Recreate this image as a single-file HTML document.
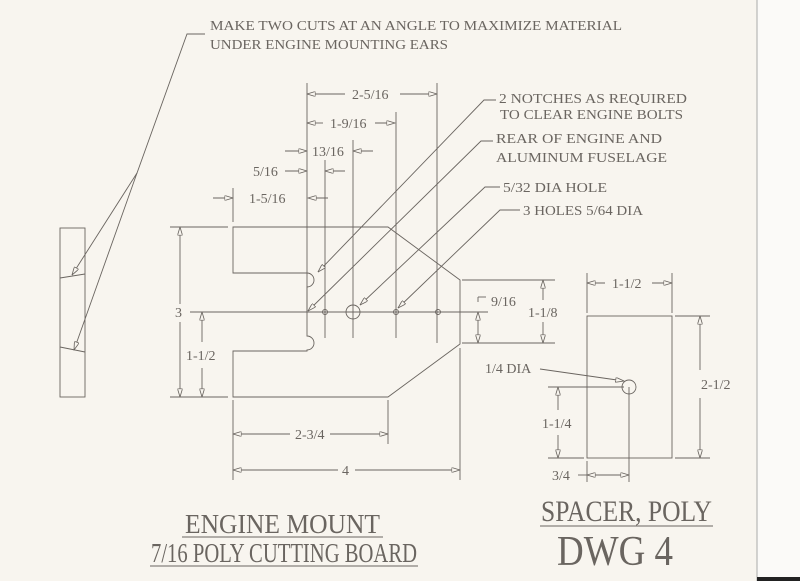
<!DOCTYPE html>
<html><head><meta charset="utf-8"><style>
html,body{margin:0;padding:0;background:#f8f5ef;}
svg{display:block}
text{font-family:"Liberation Serif",serif;fill:#6a6560;}
</style></head><body>
<svg width="800" height="581" viewBox="0 0 800 581" xmlns="http://www.w3.org/2000/svg">
<defs>
<marker id="a" viewBox="0 0 10 6" refX="10" refY="3" markerWidth="9" markerHeight="5" orient="auto-start-reverse" markerUnits="userSpaceOnUse">
<path d="M0,0 L10,3 L0,6 Z" fill="#f8f5ef" stroke="#6a6560" stroke-width="1"/>
</marker>
</defs>
<rect x="0" y="0" width="800" height="581" fill="#f8f5ef"/>
<rect x="757" y="0" width="43" height="581" fill="#fbfaf8"/>
<line x1="757" y1="0" x2="757" y2="581" stroke="#aaa" stroke-width="1"/>
<rect x="757" y="577" width="43" height="4" fill="#222"/>

<g stroke="#6a6560" stroke-width="0.9" fill="none">
<path d="M233,227 L388,227 L460,280 L460,344 L388,397 L233,397 L233,351 L307,351 L307,350 A7,7 0 0 0 307,336 L307,287 A7,7 0 0 0 307,273 L233,273 Z"/>
<line x1="190" y1="312" x2="488" y2="312"/>
<circle cx="325" cy="312" r="2.5"/>
<circle cx="353" cy="312" r="7"/>
<circle cx="396" cy="312" r="2.5"/>
<circle cx="438" cy="312" r="2.5"/>
<line x1="307" y1="83" x2="307" y2="312"/>
<line x1="325" y1="160" x2="325" y2="338"/>
<line x1="353" y1="140" x2="353" y2="338"/>
<line x1="396" y1="112" x2="396" y2="338"/>
<line x1="437" y1="83" x2="437" y2="343"/>
<line x1="233" y1="188" x2="233" y2="222"/>
<line x1="307" y1="94" x2="345" y2="94" marker-start="url(#a)"/>
<line x1="400" y1="94" x2="437" y2="94" marker-end="url(#a)"/>
<line x1="307" y1="123" x2="323" y2="123" marker-start="url(#a)"/>
<line x1="375" y1="123" x2="395" y2="123" marker-end="url(#a)"/>
<line x1="285" y1="151" x2="307" y2="151" marker-end="url(#a)"/>
<line x1="373" y1="151" x2="353" y2="151" marker-end="url(#a)"/>
<line x1="285" y1="171" x2="307" y2="171" marker-end="url(#a)"/>
<line x1="345" y1="171" x2="325" y2="171" marker-end="url(#a)"/>
<line x1="213" y1="198" x2="233" y2="198" marker-end="url(#a)"/>
<line x1="328" y1="198" x2="308" y2="198" marker-end="url(#a)"/>
<line x1="170" y1="227" x2="228" y2="227"/>
<line x1="170" y1="397" x2="228" y2="397"/>
<line x1="180" y1="227" x2="180" y2="304" marker-start="url(#a)"/>
<line x1="180" y1="322" x2="180" y2="397" marker-end="url(#a)"/>
<line x1="202" y1="312" x2="202" y2="342" marker-start="url(#a)"/>
<line x1="202" y1="368" x2="202" y2="397" marker-end="url(#a)"/>
<line x1="233" y1="400" x2="233" y2="480"/>
<line x1="388" y1="400" x2="388" y2="444"/>
<line x1="460" y1="348" x2="460" y2="480"/>
<line x1="233" y1="434" x2="290" y2="434" marker-start="url(#a)"/>
<line x1="330" y1="434" x2="388" y2="434" marker-end="url(#a)"/>
<line x1="233" y1="470" x2="338" y2="470" marker-start="url(#a)"/>
<line x1="355" y1="470" x2="460" y2="470" marker-end="url(#a)"/>
<line x1="462" y1="280" x2="555" y2="280"/>
<line x1="462" y1="343" x2="555" y2="343"/>
<line x1="543" y1="280" x2="543" y2="300" marker-start="url(#a)"/>
<line x1="543" y1="322" x2="543" y2="343" marker-end="url(#a)"/>
<line x1="478" y1="312" x2="478" y2="343" marker-start="url(#a)" marker-end="url(#a)"/>
<line x1="478" y1="302" x2="478" y2="297"/>
<line x1="478" y1="297" x2="486" y2="297"/>
<polyline points="496,100 484,100 318,272" marker-end="url(#a)"/>
<polyline points="493,141 481,141 308,311" marker-end="url(#a)"/>
<polyline points="500,187 485,187 360,305" marker-end="url(#a)"/>
<polyline points="520,210 500,210 398,308" marker-end="url(#a)"/>
<polyline points="205,34 187,34 137,173 72,275" marker-end="url(#a)"/>
<polyline points="137,173 74,350" marker-end="url(#a)"/>
<rect x="60" y="228" width="25" height="169"/>
<line x1="60" y1="278" x2="85" y2="274"/>
<line x1="60" y1="347" x2="85" y2="352"/>
<rect x="587" y="316" width="85" height="142"/>
<circle cx="629" cy="387" r="7"/>
<line x1="587" y1="273" x2="587" y2="313"/>
<line x1="672" y1="273" x2="672" y2="313"/>
<line x1="587" y1="283" x2="605" y2="283" marker-start="url(#a)"/>
<line x1="652" y1="283" x2="672" y2="283" marker-end="url(#a)"/>
<line x1="675" y1="316" x2="710" y2="316"/>
<line x1="675" y1="458" x2="710" y2="458"/>
<line x1="700" y1="316" x2="700" y2="370" marker-start="url(#a)"/>
<line x1="700" y1="398" x2="700" y2="458" marker-end="url(#a)"/>
<line x1="548" y1="387" x2="624" y2="387"/>
<line x1="548" y1="458" x2="584" y2="458"/>
<line x1="558" y1="387" x2="558" y2="410" marker-start="url(#a)"/>
<line x1="558" y1="435" x2="558" y2="458" marker-end="url(#a)"/>
<line x1="629" y1="387" x2="629" y2="482"/>
<line x1="587" y1="461" x2="587" y2="482"/>
<line x1="587" y1="475" x2="629" y2="475" marker-start="url(#a)" marker-end="url(#a)"/>
<line x1="578" y1="475" x2="587" y2="475"/>
<line x1="540" y1="369" x2="624" y2="381" marker-end="url(#a)"/>
<line x1="182" y1="537" x2="383" y2="537"/>
<line x1="150" y1="566" x2="418" y2="566"/>
<line x1="540" y1="526" x2="713" y2="526"/>
</g>

<g font-size="14">
<text x="210" y="30" textLength="412" lengthAdjust="spacingAndGlyphs">MAKE TWO CUTS AT AN ANGLE TO MAXIMIZE MATERIAL</text>
<text x="210" y="49" textLength="238" lengthAdjust="spacingAndGlyphs">UNDER ENGINE MOUNTING EARS</text>
<text x="499" y="103" textLength="188" lengthAdjust="spacingAndGlyphs">2 NOTCHES AS REQUIRED</text>
<text x="500" y="119" textLength="183" lengthAdjust="spacingAndGlyphs">TO CLEAR ENGINE BOLTS</text>
<text x="496" y="143" textLength="166" lengthAdjust="spacingAndGlyphs">REAR OF ENGINE AND</text>
<text x="496" y="162" textLength="171" lengthAdjust="spacingAndGlyphs">ALUMINUM FUSELAGE</text>
<text x="503" y="192" textLength="104" lengthAdjust="spacingAndGlyphs">5/32 DIA HOLE</text>
<text x="523" y="215" textLength="120" lengthAdjust="spacingAndGlyphs">3 HOLES 5/64 DIA</text>
<text x="352" y="99">2-5/16</text>
<text x="330" y="128">1-9/16</text>
<text x="312" y="156">13/16</text>
<text x="253" y="176">5/16</text>
<text x="249" y="203">1-5/16</text>
<text x="175" y="317">3</text>
<text x="186" y="360">1-1/2</text>
<text x="295" y="439">2-3/4</text>
<text x="342" y="475">4</text>
<text x="491" y="306">9/16</text>
<text x="528" y="317">1-1/8</text>
<text x="612" y="288">1-1/2</text>
<text x="701" y="389">2-1/2</text>
<text x="485" y="373">1/4 DIA</text>
<text x="542" y="428">1-1/4</text>
<text x="552" y="480">3/4</text>
</g>
<g font-size="27">
<text x="185" y="533" textLength="195" lengthAdjust="spacingAndGlyphs">ENGINE MOUNT</text>
<text x="151" y="562" textLength="266" lengthAdjust="spacingAndGlyphs">7/16 POLY CUTTING BOARD</text>
<text x="541" y="521" font-size="30" textLength="171" lengthAdjust="spacingAndGlyphs">SPACER, POLY</text>
</g>
<text x="557" y="565" font-size="42" textLength="116" lengthAdjust="spacingAndGlyphs">DWG 4</text>
</svg>
</body></html>
